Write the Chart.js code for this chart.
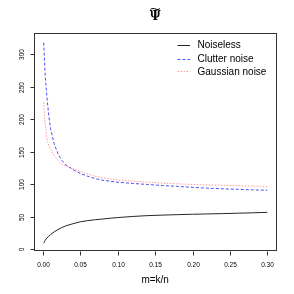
<!DOCTYPE html>
<html>
<head>
<meta charset="utf-8">
<script src="https://cdn.jsdelivr.net/npm/chart.js@4/dist/chart.umd.min.js"></script>
<style>
  html, body { margin: 0; padding: 0; background: #fff; }
  canvas { display: block; }
</style>
</head>
<body>
<canvas id="c" width="294" height="294" style="width:294px;height:294px"></canvas>
<script>
// m = k/n sample points
const mValues = [0.001, 0.002, 0.003, 0.005, 0.0075, 0.01, 0.015, 0.02, 0.025, 0.03, 0.04, 0.05, 0.06, 0.07, 0.08, 0.09, 0.1, 0.12, 0.14, 0.16, 0.18, 0.2, 0.22, 0.24, 0.26, 0.28, 0.3];

// series
const noiseless = [9, 11.5, 13.5, 16.5, 19.5, 22, 26.5, 30, 33, 35.5, 39, 42, 43.8, 45.2, 46.3, 47.5, 48.5, 50.2, 51.5, 52.3, 53, 53.6, 54.1, 54.6, 55.2, 55.8, 56.5];
const clutterNoise = [318, 290, 268, 238, 208, 186, 162, 147, 137, 130, 122.5, 116.5, 112, 108.5, 106, 104.5, 103, 101, 99.5, 97.8, 96.5, 95, 93.8, 92.8, 92, 91.2, 90.5];
const gaussianNoise = [226, 205, 192, 172, 160, 154, 144, 137, 131, 128, 124, 119.5, 115.5, 112, 110, 108, 106.5, 104.5, 103, 101.5, 100.5, 99.5, 98.8, 98.2, 97.6, 97, 96.6];

const seriesNames = ['Noiseless', 'Clutter noise', 'Gaussian noise'];
const xTicks = [0.00, 0.05, 0.10, 0.15, 0.20, 0.25, 0.30];
const yTicks = [0, 50, 100, 150, 200, 250, 300];

const toPoints = ys => ys.map((y, i) => ({ x: mValues[i], y: y }));

// R-style box, ticks, labels, title and legend
const rStyle = {
  id: 'rStyle',
  afterDraw(chart) {
    const ctx = chart.ctx;
    const a = chart.chartArea;
    const xs = chart.scales.x;
    const ys = chart.scales.y;
    ctx.save();
    ctx.strokeStyle = '#333';
    ctx.lineWidth = 1;
    ctx.strokeRect(Math.round(a.left) + 0.5, Math.round(a.top) + 0.5,
      Math.round(a.right - a.left), Math.round(a.bottom - a.top));

    ctx.fillStyle = '#000';
    ctx.font = '6.5px "Liberation Sans", Arial, sans-serif';
    ctx.textAlign = 'center';
    ctx.textBaseline = 'middle';
    const bottom = Math.round(a.bottom) + 0.5;
    xTicks.forEach(v => {
      const px = Math.round(xs.getPixelForValue(v)) + 0.5;
      ctx.beginPath();
      ctx.moveTo(px, bottom);
      ctx.lineTo(px, bottom + 4);
      ctx.stroke();
      ctx.fillText(v.toFixed(2), px, 265);
    });
    const left = Math.round(a.left) + 0.5;
    yTicks.forEach(v => {
      const py = Math.round(ys.getPixelForValue(v)) + 0.5;
      ctx.beginPath();
      ctx.moveTo(left, py);
      ctx.lineTo(left - 4, py);
      ctx.stroke();
      ctx.save();
      ctx.translate(22, py);
      ctx.rotate(-Math.PI / 2);
      ctx.fillText(String(v), 0, 0);
      ctx.restore();
    });

    // axis title
    ctx.font = '10px "Liberation Sans", Arial, sans-serif';
    ctx.fillText('m=k/n', (a.left + a.right) / 2, 280);

    // main title: Psi with a wide tilde
    const cx = (a.left + a.right) / 2;
    ctx.font = 'bold 12px "DejaVu Serif", serif';
    ctx.fillText('\u03A8', cx, 17);
    ctx.save();
    ctx.translate(cx, 10);
    ctx.scale(1.7, 1);
    ctx.font = '9px "DejaVu Serif", serif';
    ctx.fillText('~', 0, 0);
    ctx.restore();

    // legend
    ctx.font = '10px "Liberation Sans", Arial, sans-serif';
    ctx.textAlign = 'left';
    const legY = [44.7, 58.7, 71.3];
    chart.data.datasets.forEach((ds, i) => {
      ctx.strokeStyle = ds.borderColor;
      ctx.setLineDash(ds.borderDash || []);
      ctx.beginPath();
      ctx.moveTo(177.5, Math.round(legY[i]) + 0.5);
      ctx.lineTo(190, Math.round(legY[i]) + 0.5);
      ctx.stroke();
      ctx.setLineDash([]);
      ctx.fillStyle = '#000';
      ctx.fillText(seriesNames[i], 197.5, legY[i] + 0.5);
    });
    ctx.restore();
  }
};

new Chart(document.getElementById('c'), {
  type: 'line',
  data: {
    datasets: [
      { label: seriesNames[0], data: toPoints(noiseless), borderColor: 'rgba(0,0,0,0.85)', borderWidth: 1 },
      { label: seriesNames[1], data: toPoints(clutterNoise), borderColor: 'rgba(0,0,255,0.7)', borderWidth: 1, borderDash: [3, 2] },
      { label: seriesNames[2], data: toPoints(gaussianNoise), borderColor: 'rgba(255,0,0,0.4)', borderWidth: 1, borderDash: [1.5, 1.5] }
    ]
  },
  options: {
    responsive: false,
    devicePixelRatio: 1,
    animation: false,
    layout: { padding: { top: 33.3, right: 17.7, left: 0, bottom: 0 } },
    elements: { point: { radius: 0 }, line: { tension: 0 } },
    plugins: { legend: { display: false }, tooltip: { enabled: false }, title: { display: false } },
    scales: {
      x: {
        type: 'linear', min: -0.012, max: 0.312,
        ticks: { display: false }, grid: { display: false }, border: { display: false },
        afterFit: s => { s.height = 43.4; }
      },
      y: {
        type: 'linear', min: -2.4, max: 332.4,
        ticks: { display: false }, grid: { display: false }, border: { display: false },
        afterFit: s => { s.width = 34; }
      }
    }
  },
  plugins: [rStyle]
});
</script>
</body>
</html>
